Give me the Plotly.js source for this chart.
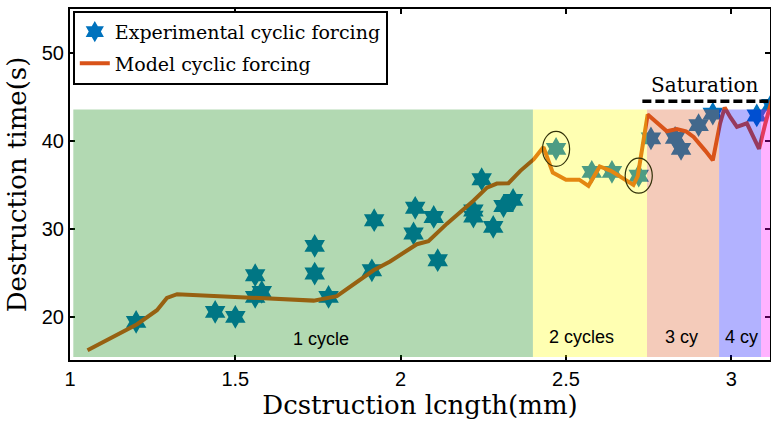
<!DOCTYPE html>
<html><head><meta charset="utf-8">
<script src="https://cdn.plot.ly/plotly-3.0.1.min.js"></script>
<style>html,body{margin:0;padding:0;background:#fff}</style>
</head><body><div id="chart" style="width:771px;height:422px"></div>
<script>
// ---- data ----
const expX = [1.200, 1.439, 1.500, 1.560, 1.560, 1.580, 1.740, 1.740, 1.782, 1.913, 1.920,
              2.039, 2.044, 2.100, 2.112, 2.220, 2.220, 2.245, 2.280, 2.311, 2.340,
              2.470, 2.578, 2.639, 2.720,
              2.757, 2.830, 2.848, 2.901, 2.944, 3.077, 3.121];
const expY = [19.43, 20.57, 20.00, 24.74, 22.27, 22.84, 28.07, 24.93, 22.27, 25.30, 30.99,
              29.48, 32.40, 31.36, 26.44, 32.10, 31.40, 35.65, 30.23, 32.60, 33.30,
              39.10, 36.48, 36.48, 36.05,
              40.30, 40.35, 39.10, 41.80, 43.10, 42.90, 44.10];
const modelX = [1.053, 1.203, 1.263, 1.293, 1.324, 1.737, 1.807, 1.918, 1.968, 2.049, 2.084,
                2.140, 2.220, 2.261, 2.291, 2.326, 2.362, 2.402, 2.432,
                2.460, 2.500, 2.540, 2.568, 2.602, 2.636, 2.664, 2.704, 2.717,
                2.747, 2.805, 2.835, 2.863, 2.886, 2.921, 2.944,
                2.966, 2.980, 2.997, 3.017, 3.047, 3.084, 3.103, 3.125];
const modelY = [16.22, 19.17, 20.76, 22.16, 22.58, 21.85, 22.35, 25.30, 26.30, 28.26, 28.60,
                30.60, 33.20, 34.70, 35.16, 35.20, 36.60, 37.90, 39.30,
                36.40, 35.60, 35.60, 34.90, 37.10, 36.60, 35.90, 35.00, 36.00,
                43.00, 41.10, 41.35, 41.10, 40.45, 38.90, 37.80,
                42.00, 43.80, 42.70, 41.60, 42.00, 39.10, 42.00, 45.00];
const circledIdx = [21, 24];
const cycleEdges = [1.01, 2.40, 2.745, 2.963, 3.09, 3.25];
const cycleLabels = ['1 cycle', '2 cycles', '3 cy', '4 cy'];
const cycleLabelX = [1.759, 2.546, 2.849, 3.030];
const cycleLabelY = [17.45, 17.70, 17.70, 17.70];
const regionTop = 43.57, regionBottom = 15.45;
const saturationLevel = 44.5, saturationStart = 2.731;
const xTicks = [1, 1.5, 2, 2.5, 3];
const yTicks = [20, 30, 40, 50];

// ---- styles ----
const regionColors = ['rgb(0,128,0)', 'rgb(255,255,0)', 'rgb(217,83,25)', 'rgb(0,0,255)', 'rgb(255,0,255)'];
const serif = 'DejaVu Serif, serif';
const sans = 'Liberation Sans, Arial, sans-serif';

const shapes = [];
for (let i = 0; i < cycleEdges.length - 1; i++) {
  shapes.push({type: 'rect', layer: 'above', xref: 'x', yref: 'y',
    x0: cycleEdges[i], x1: cycleEdges[i + 1], y0: regionBottom, y1: regionTop,
    fillcolor: regionColors[i], opacity: 0.3, line: {width: 0}});
}
const cw = 0.041, ch = 1.99;
circledIdx.forEach(k => {
  shapes.push({type: 'circle', layer: 'above', xref: 'x', yref: 'y',
    x0: expX[k] - cw, x1: expX[k] + cw, y0: expY[k] - ch, y1: expY[k] + ch,
    line: {color: 'rgb(50,50,10)', width: 1.2}});
});
shapes.push({type: 'line', layer: 'above', xref: 'x', yref: 'y',
  x0: saturationStart, x1: 3.2, y0: saturationLevel, y1: saturationLevel,
  line: {color: 'black', width: 3.5, dash: '9px,4px'}});

const annotations = cycleLabels.map((t, i) => ({
  text: t, x: cycleLabelX[i], y: cycleLabelY[i], xref: 'x', yref: 'y',
  showarrow: false, font: {family: sans, size: 18, color: 'black'}
}));
annotations.push({text: 'Saturation', x: 2.921, y: saturationLevel, xref: 'x', yref: 'y',
  yanchor: 'bottom', yshift: 2, showarrow: false, font: {family: serif, size: 20, color: 'black'}});

const traces = [
  {x: expX, y: expY, mode: 'markers', type: 'scatter', name: 'Experimental cyclic forcing',
   legendgroup: 'a',
   marker: {symbol: 'hexagram', size: 18, color: '#0072BD', line: {width: 0}}},
  {x: modelX, y: modelY, mode: 'lines', type: 'scatter', name: 'Model cyclic forcing',
   legendgroup: 'b',
   line: {color: '#D95319', width: 4}}
];

const axisCommon = {showgrid: false, zeroline: false, showline: true, linecolor: 'black', linewidth: 2,
  ticks: 'inside', ticklen: 5, tickwidth: 2, tickcolor: 'black', mirror: 'allticks',
  tickfont: {family: sans, size: 20, color: 'black'}};

const layout = {
  width: 771, height: 422,
  margin: {l: 70, r: 1, t: 9, b: 62},
  paper_bgcolor: 'white', plot_bgcolor: 'white',
  xaxis: Object.assign({}, axisCommon, {range: [1, 3.117], tickvals: xTicks, ticktext: xTicks.map(String),
    title: {text: 'Dcstruction lcngth(mm)', font: {family: serif, size: 26, color: 'black'}, standoff: 4}}),
  yaxis: Object.assign({}, axisCommon, {range: [15.1, 55], tickvals: yTicks, ticktext: yTicks.map(String),
    title: {text: 'Destruction time(s)', font: {family: serif, size: 26, color: 'black'}, standoff: 8}}),
  shapes: shapes,
  annotations: annotations,
  showlegend: true,
  legend: {x: 0.004, y: 0.995, xanchor: 'left', yanchor: 'top', bgcolor: 'white',
    bordercolor: 'black', borderwidth: 2, traceorder: 'grouped', tracegroupgap: 4,
    font: {family: serif, size: 19, color: 'black'}, entrywidth: 300}
};

Plotly.newPlot('chart', traces, layout, {displayModeBar: false, staticPlot: true});
</script></body></html>
